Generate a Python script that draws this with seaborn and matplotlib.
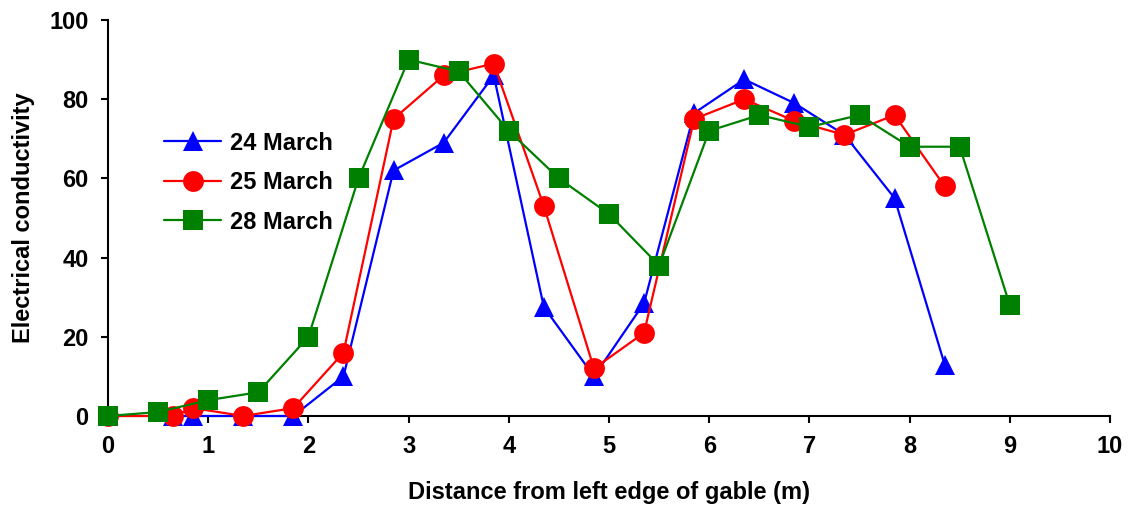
import pandas as pd
import matplotlib
matplotlib.use("Agg")
import matplotlib.pyplot as plt
import seaborn as sns

# Dados
x_24 = [0.65, 0.85, 1.35, 1.85, 2.35, 2.85, 3.35, 3.85, 4.35, 4.85, 5.35, 5.85, 6.35, 6.85, 7.35, 7.85, 8.35]
y_24 = [0, 0, 0, 0, 10, 62, 69, 86, 27.5, 10, 28.5, 76.5, 85, 79, 71, 55, 13]

x_25 = [0, 0.65, 0.85, 1.35, 1.85, 2.35, 2.85, 3.35, 3.85, 4.35, 4.85, 5.35, 5.85, 6.35, 6.85, 7.35, 7.85, 8.35]
y_25 = [0, 0, 2, 0, 2, 16, 75, 86, 89, 53, 12, 21, 75, 80, 74.5, 71, 76, 58]

x_28 = [0, 0.5, 1.0, 1.5, 2.0, 2.5, 3.0, 3.5, 4.0, 4.5, 5.0, 5.5, 6.0, 6.5, 7.0, 7.5, 8.0, 8.5, 9.0]
y_28 = [0, 1, 4, 6, 20, 60, 90, 87, 72, 60, 51, 38, 72, 76, 73, 76, 68, 68, 28]

series = ['24 March', '25 March', '28 March']
cores = ['#0000FF', '#FF0000', '#008000']
marcadores = ['^', 'o', 's']

df = pd.concat([
    pd.DataFrame({'Distance': x_24, 'EC': y_24, 'Data': series[0]}),
    pd.DataFrame({'Distance': x_25, 'EC': y_25, 'Data': series[1]}),
    pd.DataFrame({'Distance': x_28, 'EC': y_28, 'Data': series[2]}),
])

sns.set_theme(style="ticks")
plt.rcParams['font.family'] = ['Liberation Sans', 'DejaVu Sans']
plt.rcParams['font.weight'] = 'bold'
for chave in ['text.color', 'axes.labelcolor', 'xtick.color', 'ytick.color']:
    plt.rcParams[chave] = 'black'

fig = plt.figure(figsize=(11.32, 5.09), dpi=100)
ax = fig.add_axes([108 / 1132, 1 - 416 / 509, 1002 / 1132, 396 / 509])

for i, nome in enumerate(series):
    sns.lineplot(
        data=df[df['Data'] == nome], x='Distance', y='EC',
        color=cores[i], marker=marcadores[i], markersize=15,
        markeredgewidth=0, linewidth=1.6, label=nome,
        clip_on=False, zorder=3 + i, ax=ax, sort=False,
    )

ax.set_xlim(0, 10)
ax.set_ylim(0, 100)
ax.set_xticks(range(0, 11))
ax.set_yticks(range(0, 101, 20))
ax.tick_params(labelsize=17, width=1.5, length=5, color='black', labelcolor='black')
ax.tick_params(axis='x', pad=9)
ax.tick_params(axis='y', pad=9)
for lbl in ax.get_xticklabels() + ax.get_yticklabels():
    lbl.set_fontweight('bold')
sns.despine(ax=ax)
for s in ['left', 'bottom']:
    ax.spines[s].set_linewidth(1.5)
    ax.spines[s].set_color('black')

ax.set_xlabel('Distance from left edge of gable (m)', fontsize=17, fontweight='bold', labelpad=16)
ax.set_ylabel('Electrical conductivity', fontsize=17, fontweight='bold', labelpad=10)

ax.legend(loc='upper left', bbox_to_anchor=(0.035, 0.772), frameon=False,
          prop={'size': 17, 'weight': 'bold'}, handlelength=2.4,
          labelspacing=0.7, handletextpad=0.4)

fig.savefig('out.png', dpi=100)
